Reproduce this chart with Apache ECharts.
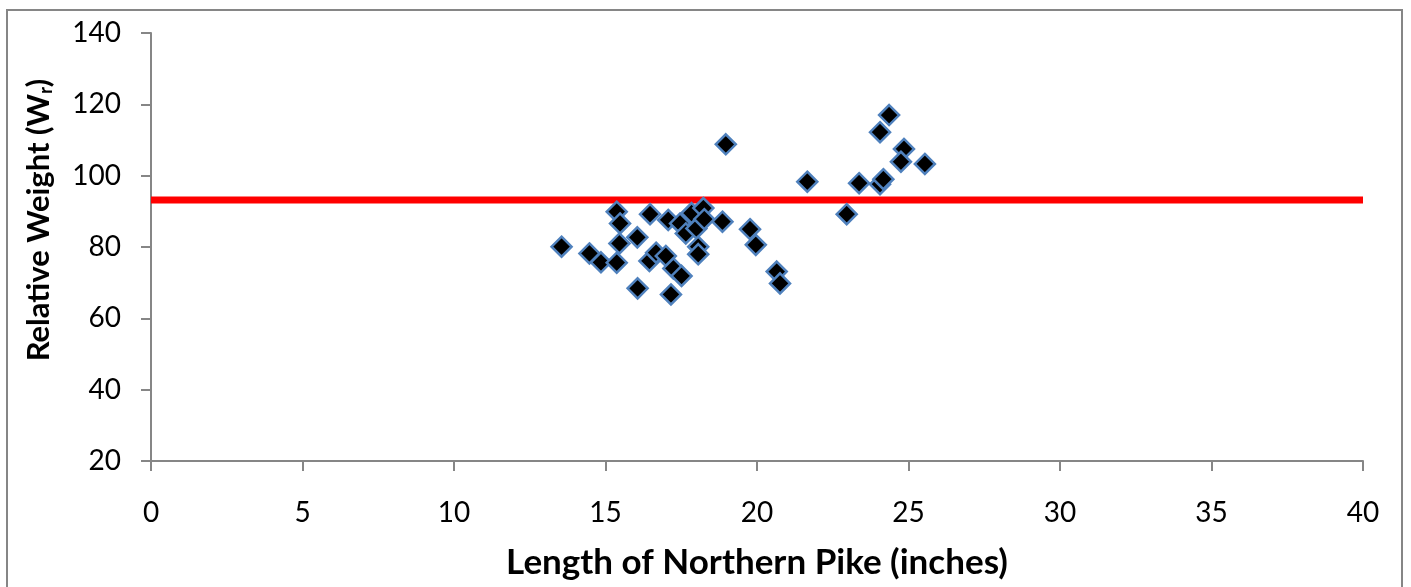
<!DOCTYPE html>
<html>
<head>
<meta charset="utf-8">
<script src="https://cdn.jsdelivr.net/npm/echarts@6/dist/echarts.min.js"></script>
<style>
  html, body { margin: 0; padding: 0; background: #fff; }
  #chart { width: 1411px; height: 587px; }
</style>
</head>
<body>
<div id="chart"></div>
<script>
// pike lengths (inches) and their relative weight
const lengths = [13.55, 14.47, 14.85, 15.37, 15.48, 15.46, 15.37, 16.05, 16.06, 16.47,
  16.45, 16.67, 16.99, 17.07, 17.24, 17.51, 17.16, 17.46, 17.84, 17.65,
  18.0, 18.23, 18.26, 18.06, 18.06, 18.86, 18.97, 19.77, 19.96, 20.65,
  20.76, 21.66, 22.96, 23.37, 24.06, 24.17, 24.06, 24.36, 24.85, 24.75, 25.54];
const weights = [80.1, 78.2, 75.7, 89.9, 86.6, 81.0, 75.6, 82.7, 68.4, 89.2,
  76.1, 78.4, 77.5, 87.6, 74.0, 71.9, 66.7, 86.6, 89.5, 83.8,
  85.2, 90.9, 87.8, 80.1, 78.0, 87.1, 108.8, 85.0, 80.6, 73.1,
  69.8, 98.3, 89.2, 97.9, 97.6, 99.0, 112.2, 117.0, 107.5, 103.9, 103.3];

// mean reference line
const refX = [0, 40];
const refY = [93.2, 93.2];

const font = 'Lato, "Noto Sans", sans-serif';
const axisGray = '#868686';

const chart = echarts.init(document.getElementById('chart'));

chart.setOption({
  animation: false,
  grid: { left: 151, right: 48, top: 33, bottom: 126 },
  graphic: [{
    type: 'rect',
    shape: { x: 7, y: 10, width: 1395, height: 600 },
    style: { fill: 'none', stroke: axisGray, lineWidth: 2 },
    silent: true
  }],
  xAxis: {
    type: 'value',
    min: 0, max: 40, interval: 5,
    splitLine: { show: false },
    axisLine: { onZero: false, lineStyle: { color: axisGray, width: 2 } },
    axisTick: { show: true, length: 10, lineStyle: { color: axisGray, width: 2 } },
    axisLabel: { color: '#000', fontSize: 28, fontFamily: font, margin: 38 },
    name: 'Length of Northern Pike (inches)',
    nameLocation: 'middle',
    nameGap: 84,
    nameTextStyle: { color: '#000', fontSize: 35, fontWeight: 'bold', fontFamily: font }
  },
  yAxis: {
    type: 'value',
    min: 20, max: 140, interval: 20,
    splitLine: { show: false },
    axisLine: { show: true, onZero: false, lineStyle: { color: axisGray, width: 2 } },
    axisTick: { show: true, length: 10, lineStyle: { color: axisGray, width: 2 } },
    axisLabel: { color: '#000', fontSize: 28, fontFamily: font, margin: 30 },
    name: '{t|Relative Weight (W}{s|r}{t|)}',
    nameLocation: 'middle',
    nameRotate: 90,
    nameGap: 96,
    nameTextStyle: {
      padding: [0, 0, 0, 54],
      rich: {
        t: { color: '#000', fontSize: 31, fontWeight: 'bold', fontFamily: font },
        s: { color: '#000', fontSize: 18, fontWeight: 'bold', fontFamily: font, padding: [14, 0, 0, 0] }
      }
    }
  },
  series: [
    {
      type: 'line',
      data: refX.map((x, i) => [x, refY[i]]),
      symbol: 'none',
      lineStyle: { color: '#ff0000', width: 7 },
      z: 2
    },
    {
      type: 'scatter',
      data: lengths.map((x, i) => [x, weights[i]]),
      symbol: 'diamond',
      symbolSize: 20,
      itemStyle: { color: '#000', opacity: 1, borderColor: '#4f81bd', borderWidth: 2.5 },
      z: 3
    }
  ]
});
</script>
</body>
</html>
